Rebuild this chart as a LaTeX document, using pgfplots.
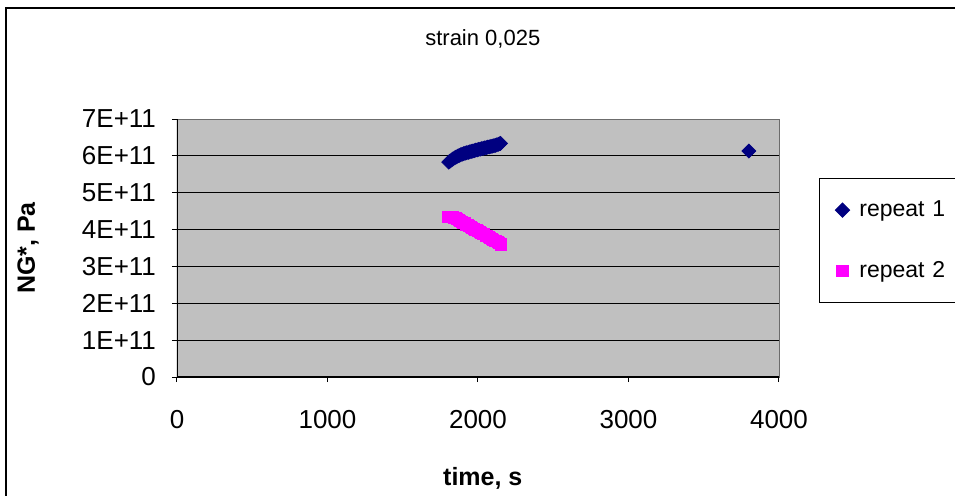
\documentclass[border=0pt]{standalone}
\usepackage{fontspec}
\setmainfont{Liberation Sans}
\usepackage{pgfplots}
\pgfplotsset{compat=1.18}
\definecolor{plotgray}{RGB}{192,192,192}
\definecolor{navyblue}{RGB}{0,0,128}
\definecolor{magenta2}{RGB}{255,0,255}
\begin{document}
\begin{tikzpicture}
\path[use as bounding box, clip] (0pt,0pt) rectangle (477.5pt,-247.5pt);
\draw[line width=0.8pt] (3pt,-4pt) rectangle (600pt,-300pt);
\begin{axis}[
  at={(88.5pt,-188.5pt)}, anchor=origin,
  scale only axis, width=301pt, height=129pt,
  xmin=0, xmax=4000, ymin=0, ymax=7,
  xtick={0,1000,2000,3000,4000},
  ytick={0,1,2,3,4,5,6,7},
  yticklabels={0,1E+11,2E+11,3E+11,4E+11,5E+11,6E+11,7E+11},
  scaled x ticks=false,
  /pgf/number format/assume math mode=true,
  /pgf/number format/set thousands separator={},
  axis background/.style={fill=plotgray},
  axis line style={draw=gray!85!black},
  tick pos=left, tick align=outside, major tick length=2.5pt,
  tick style={black, line width=0.5pt},
  ymajorgrids, grid style={black, line width=0.5pt},
  tick label style={font=\fontsize{13}{15}\selectfont},
  xticklabel style={yshift=-10.5pt},
  yticklabel style={xshift=-4.5pt},
  every axis title shift=0pt,
  title={strain 0,025},
  title style={at={(axis description cs:0.508,1.31)}, anchor=center, font=\fontsize{11}{13}\selectfont},
  xlabel={time, s},
  xlabel style={at={(axis description cs:0.508,-0.391)}, anchor=center, font=\fontsize{12.5}{14}\selectfont\bfseries},
  ylabel={NG*, Pa},
  ylabel style={at={(axis description cs:-0.2475,0.5)}, anchor=center, font=\fontsize{12.5}{14}\selectfont\bfseries},
  legend style={at={(axis description cs:1.0664,0.771)}, anchor=north west, draw=black, line width=0.6pt, fill=white,
    font=\fontsize{11.5}{13}\selectfont, inner xsep=8pt, inner ysep=9pt, row sep=17pt,
    text width=70pt, /tikz/every odd column/.append style={column sep=3pt}},
  legend cell align=left,
]
\addplot[only marks, mark=square*, mark size=2.45pt, mark options={rotate=45}, color=navyblue] coordinates {
(1805,5.83) (1815,5.86) (1825,5.89) (1835,5.92) (1845,5.945) (1855,5.97) (1865,5.99) (1875,6.01)
(1885,6.03) (1895,6.045) (1905,6.06) (1915,6.075) (1925,6.085) (1935,6.095) (1945,6.11) (1955,6.12)
(1965,6.13) (1975,6.14) (1985,6.155) (1995,6.165) (2005,6.175) (2015,6.185) (2025,6.195) (2035,6.205)
(2045,6.215) (2055,6.225) (2065,6.235) (2075,6.245) (2085,6.255) (2095,6.265) (2105,6.275) (2115,6.285)
(2125,6.30) (2135,6.315) (2145,6.33) (2150,6.34)
(3800,6.13)
};
\addlegendentry{repeat 1}
\addplot[only marks, mark=square*, mark size=2.75pt, color=magenta2] coordinates {
(1800,4.35) (1810,4.35) (1820,4.345) (1830,4.34) (1840,4.33) (1850,4.31) (1860,4.28) (1870,4.26)
(1880,4.24) (1890,4.21) (1900,4.19) (1910,4.17) (1920,4.14) (1930,4.12) (1940,4.10) (1950,4.07)
(1960,4.05) (1970,4.03) (1980,4.00) (1990,3.98) (2000,3.96) (2010,3.93) (2020,3.91) (2030,3.89)
(2040,3.87) (2050,3.84) (2060,3.82) (2070,3.80) (2080,3.77) (2090,3.75) (2100,3.73) (2110,3.70)
(2120,3.68) (2130,3.66) (2140,3.63) (2150,3.61) (2153,3.59)
};
\addlegendentry{repeat 2}
\draw[black, line width=0.6pt] (rel axis cs:0,1) -- (rel axis cs:0,0) -- (rel axis cs:1,0);
\end{axis}
\end{tikzpicture}
\end{document}
